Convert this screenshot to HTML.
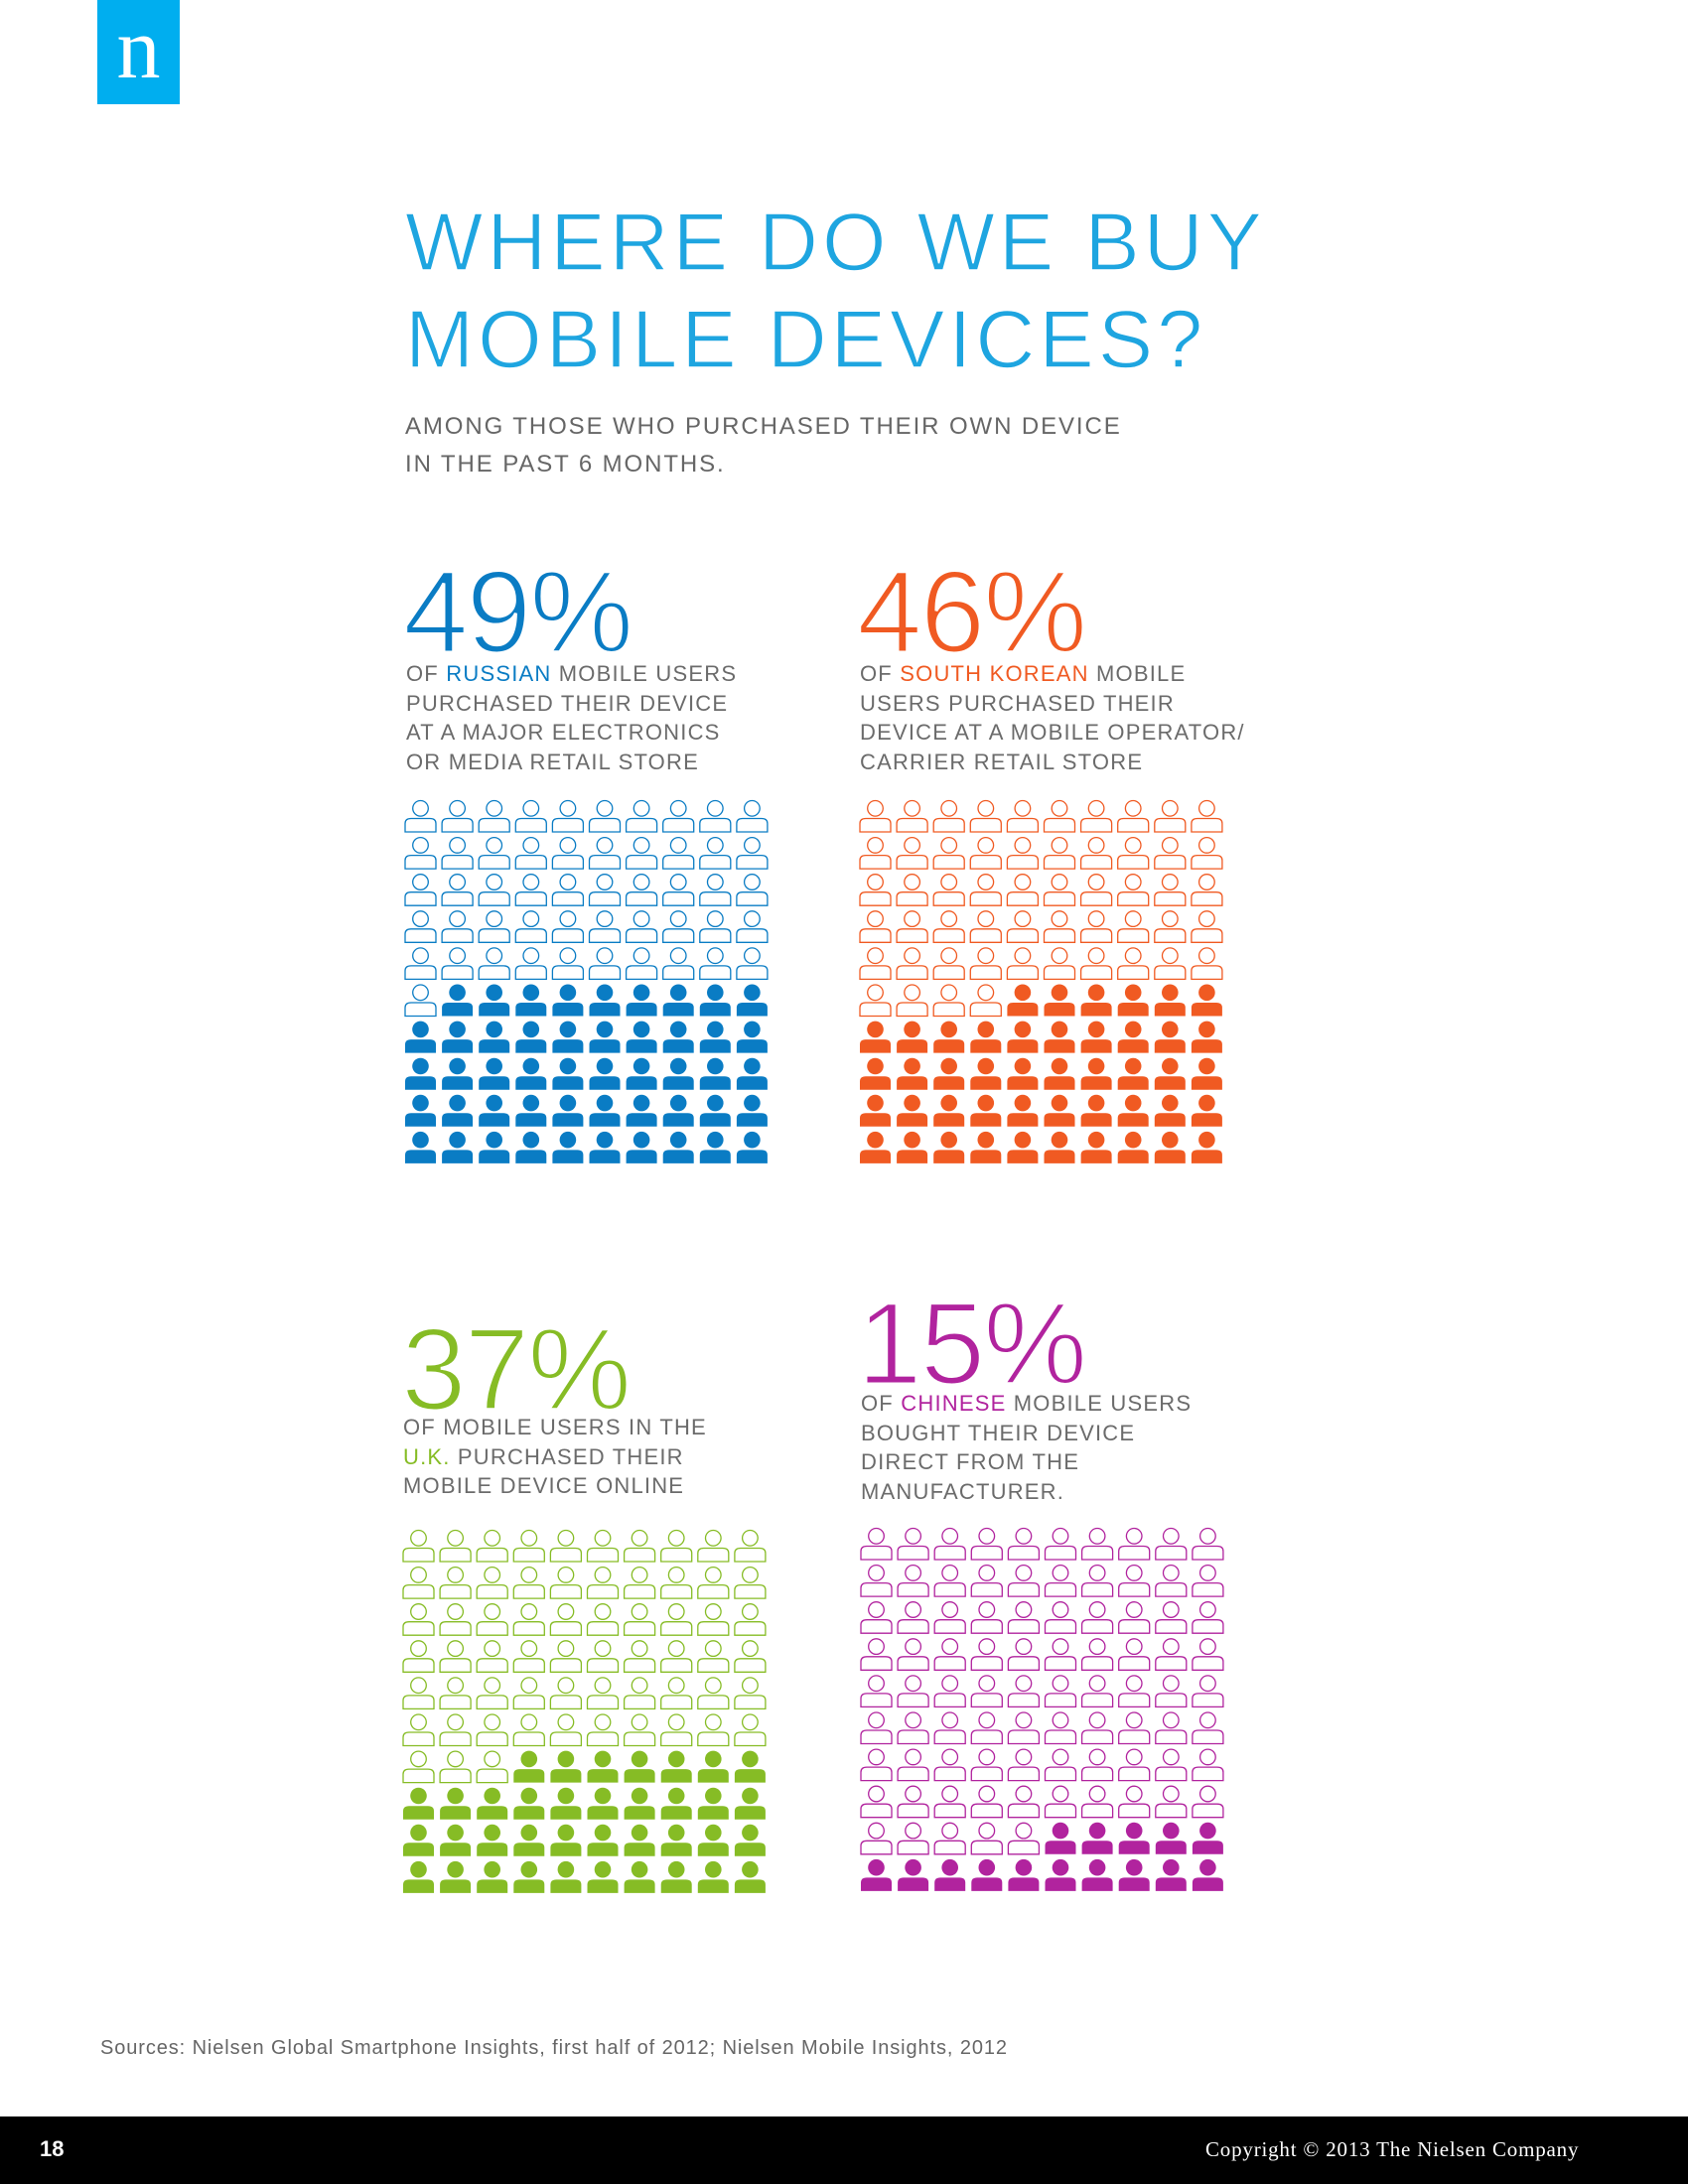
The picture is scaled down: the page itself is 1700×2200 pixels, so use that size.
<!DOCTYPE html>
<html><head><meta charset="utf-8">
<style>
body{margin:0;background:#fff;}
#page{position:relative;width:1700px;height:2200px;overflow:hidden;background:#fff;font-family:"Liberation Sans",sans-serif;}
.abs{position:absolute;white-space:nowrap;}
.title{left:408px;font-size:83px;color:#1ea5e0;letter-spacing:4px;font-weight:normal;line-height:1;-webkit-text-stroke:1.5px #fff;}
.sub{left:408px;font-size:24px;color:#666;letter-spacing:1.9px;}
.pct{font-size:118px;line-height:1;letter-spacing:-2px;-webkit-text-stroke:3px #fff;}
.desc{font-size:22px;color:#6b6b6b;letter-spacing:1.2px;line-height:29.5px;}
</style></head><body>
<div id="page">
<div class="abs" style="left:98px;top:0;width:83px;height:105px;background:#00aeef;color:#fff;font-family:'Liberation Serif',serif;font-size:88px;text-align:center;line-height:100px;">n</div>
<div class="abs title" style="top:202px;">WHERE DO WE BUY</div>
<div class="abs title" style="top:300px;">MOBILE DEVICES?</div>
<div class="abs sub" style="top:416px;">AMONG THOSE WHO PURCHASED THEIR OWN DEVICE</div>
<div class="abs sub" style="top:454px;">IN THE PAST 6 MONTHS.</div>

<div class="abs pct" style="left:406px;top:558px;color:#0a7cc4;">49%</div>
<div class="abs desc" style="left:409px;top:664px;">OF <span style="color:#0a7cc4">RUSSIAN</span> MOBILE USERS<br>PURCHASED THEIR DEVICE<br>AT A MAJOR ELECTRONICS<br>OR MEDIA RETAIL STORE</div>

<div class="abs pct" style="left:863px;top:558px;color:#f05a22;">46%</div>
<div class="abs desc" style="left:866px;top:664px;">OF <span style="color:#f05a22">SOUTH KOREAN</span> MOBILE<br>USERS PURCHASED THEIR<br>DEVICE AT A MOBILE OPERATOR/<br>CARRIER RETAIL STORE</div>

<div class="abs pct" style="left:404px;top:1321px;color:#86bc25;">37%</div>
<div class="abs desc" style="left:406px;top:1423px;">OF MOBILE USERS IN THE<br><span style="color:#86bc25">U.K.</span> PURCHASED THEIR<br>MOBILE DEVICE ONLINE</div>

<div class="abs pct" style="left:863px;top:1295px;color:#b1239e;">15%</div>
<div class="abs desc" style="left:867px;top:1399px;">OF <span style="color:#b1239e">CHINESE</span> MOBILE USERS<br>BOUGHT THEIR DEVICE<br>DIRECT FROM THE<br>MANUFACTURER.</div>

<svg id="grids" class="abs" style="left:0;top:0;" width="1700" height="2200"></svg>

<div class="abs" style="left:101px;top:2052px;font-size:20px;letter-spacing:0.9px;color:#666;">Sources: Nielsen Global Smartphone Insights, first half of 2012; Nielsen Mobile Insights, 2012</div>
<div class="abs" style="left:0;top:2132px;width:1700px;height:68px;background:#000;"></div>
<div class="abs" style="left:40px;top:2152px;font-size:22px;font-weight:bold;color:#fff;">18</div>
<div class="abs" style="left:1214px;top:2153px;font-size:21px;letter-spacing:0.8px;color:#fff;font-family:'Liberation Serif',serif;">Copyright © 2013 The Nielsen Company</div>
</div>
<script>
const countries = ["Russia","South Korea","U.K.","China"];
const percents = [49, 46, 37, 15];
const colors = ["#0a7cc4","#f05a22","#86bc25","#b1239e"];
const gridOrigins = [[408,806],[866,806],[406,1541],[867,1539]];
const svg = document.getElementById('grids');
const NS = "http://www.w3.org/2000/svg";
const pitchX = 37.1, pitchY = 37.1, iw = 31;
function iconIndexFromBottom(r,c){ return (9-r)*10 + (9-c); }
countries.forEach((name,g)=>{
  const grp = document.createElementNS(NS,'g');
  
  
  const [ox,oy] = gridOrigins[g];
  for(let r=0;r<10;r++)for(let c=0;c<10;c++){
    const filled = iconIndexFromBottom(r,c) < percents[g];
    const x = ox + c*pitchX, y = oy + r*pitchY;
    const ic = document.createElementNS(NS,'g');
    
    
    const head = document.createElementNS(NS,'circle');
    head.setAttribute('cx', x+iw/2); head.setAttribute('cy', y+8.3);
    head.setAttribute('r', filled?8.3:7.8);
    const body = document.createElementNS(NS,'path');
    const by=y+18.5;
    body.setAttribute('d', `M${x} ${y+32} L${x} ${by+5} Q${x} ${by} ${x+6} ${by} L${x+iw-6} ${by} Q${x+iw} ${by} ${x+iw} ${by+5} L${x+iw} ${y+32} Z`);
    [head,body].forEach(el=>{
      if(filled){el.setAttribute('fill',colors[g]);}
      else{el.setAttribute('fill','none');el.setAttribute('stroke',colors[g]);el.setAttribute('stroke-width','1.3');}
      ic.appendChild(el);
    });
    grp.appendChild(ic);
  }
  svg.appendChild(grp);
});
</script>
</body></html>
